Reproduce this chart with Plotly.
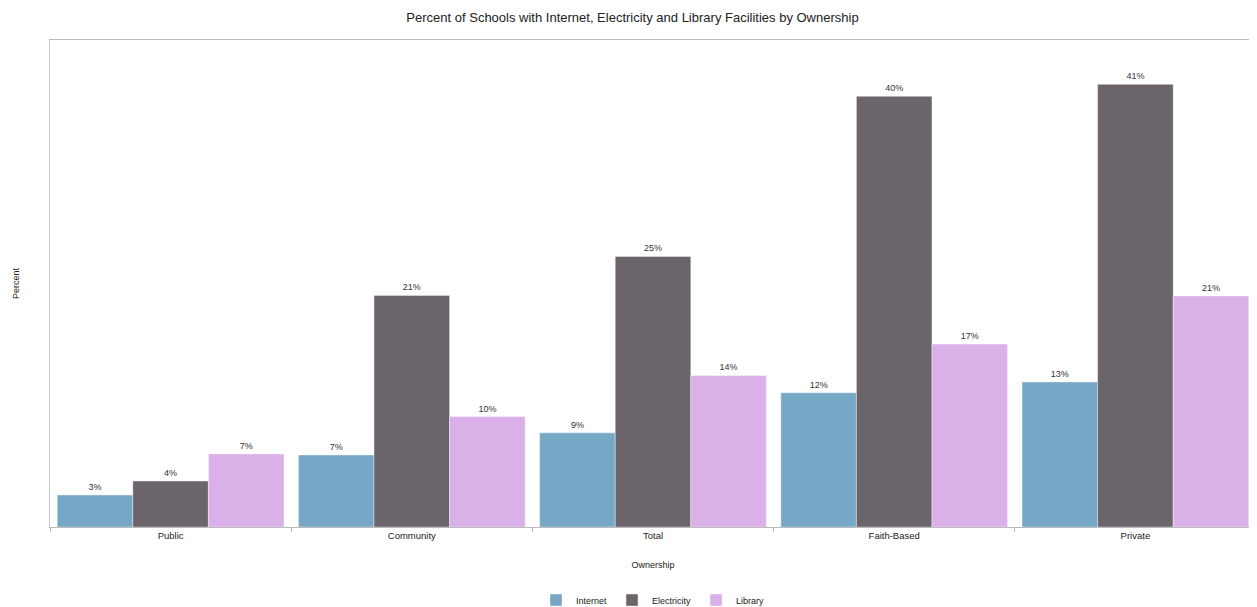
import plotly.graph_objects as go

categories = ["Public", "Community", "Total", "Faith-Based", "Private"]
internet = [2.96, 6.65, 8.7, 12.4, 13.4]
electricity = [4.25, 21.4, 25.0, 39.8, 40.9]
library = [6.75, 10.2, 14.0, 16.9, 21.35]
series_names = ["Internet", "Electricity", "Library"]
colors = ["#77A7C7", "#6B656B", "#D9B0E7"]

fig = go.Figure()
for name, vals, col in zip(series_names, [internet, electricity, library], colors):
    fig.add_trace(go.Bar(
        x=categories, y=vals, name=name,
        marker=dict(color=col, line=dict(color="rgba(255,255,255,0.5)", width=0.8)),
        text=[f"{v:.0f}%" for v in vals], textposition="outside",
        textfont=dict(size=9, color="#333333"), cliponaxis=False,
    ))

# page body has an 8px margin, so the figure is sized to fit the window
fig.update_layout(
    width=1249, height=599,
    barmode="group", bargap=0.06, bargroupgap=0,
    paper_bgcolor="white", plot_bgcolor="white",
    font=dict(family="Liberation Sans, Arial, sans-serif", size=9, color="#222222"),
    title=dict(text="Percent of Schools with Internet, Electricity and Library Facilities by Ownership",
               x=0.5, xanchor="center", y=0.984, yanchor="middle",
               font=dict(size=13, color="#222222")),
    margin=dict(l=42, r=1, t=32, b=80, autoexpand=False),
    showlegend=True,
    legend=dict(orientation="h", x=0.5, xanchor="center", y=-0.15, yanchor="middle",
                font=dict(size=9), itemwidth=30, traceorder="normal"),
    xaxis=dict(title=dict(text="Ownership", font=dict(size=9), standoff=21),
               automargin=False,
               showline=True, linecolor="#bbbbbb", linewidth=1,
               ticks="outside", tickson="boundaries", ticklen=4, tickcolor="#bbbbbb",
               mirror=True, showgrid=False, tickfont=dict(size=9.5)),
    yaxis=dict(title=dict(text="Percent", font=dict(size=9), standoff=27),
               automargin=False,
               range=[0, 45], showticklabels=False, showgrid=False, zeroline=False,
               showline=True, linecolor="#cccccc", linewidth=1, mirror=True, ticks=""),
)

fig.write_html("out.html")
